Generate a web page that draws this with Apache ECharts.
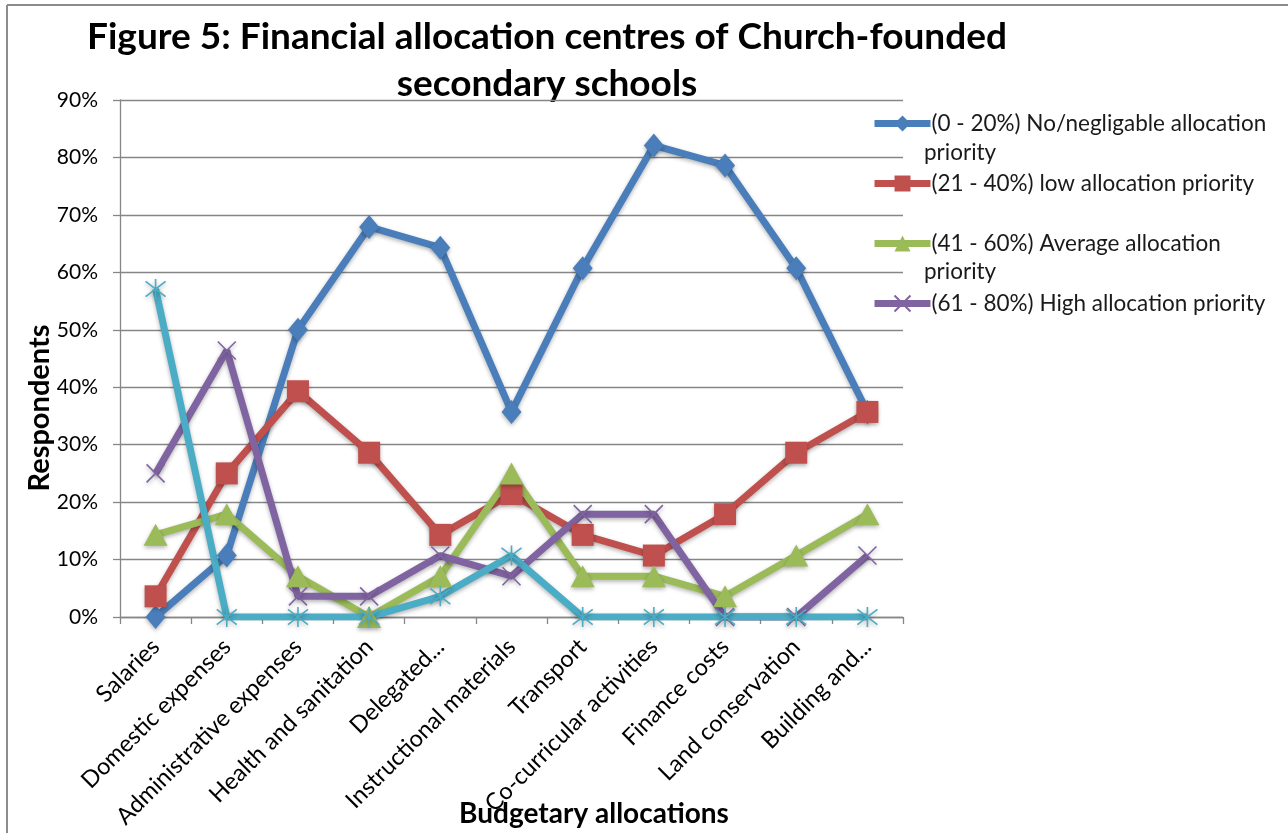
<!DOCTYPE html>
<html>
<head>
<meta charset="utf-8">
<script src="https://cdn.jsdelivr.net/npm/echarts@6/dist/echarts.min.js"></script>
<style>
  html, body { margin: 0; padding: 0; background: #fff; }
  #chart { width: 1288px; height: 833px; }
</style>
</head>
<body>
<div id="chart"></div>
<script>
// Budget lines surveyed
const categories = [
  'Salaries', 'Domestic expenses', 'Administrative expenses', 'Health and sanitation',
  'Delegated...', 'Instructional materials', 'Transport', 'Co-curricular activities',
  'Finance costs', 'Land conservation', 'Building and...'
];

// Share of respondents (%) per priority band
const noPriority      = [0, 10.7, 50, 67.9, 64.3, 35.7, 60.7, 82.1, 78.6, 60.7, 35.7];
const lowPriority     = [3.6, 25, 39.3, 28.6, 14.3, 21.4, 14.3, 10.7, 17.9, 28.6, 35.7];
const averagePriority = [14.3, 17.9, 7.1, 0, 7.1, 25, 7.1, 7.1, 3.6, 10.7, 17.9];
const highPriority    = [25, 46.4, 3.6, 3.6, 10.7, 7.1, 17.9, 17.9, 0, 0, 10.7];
const veryHighPriority = [57.1, 0, 0, 0, 3.6, 10.7, 0, 0, 0, 0, 0];

const seriesNames = [
  '(0 - 20%) No/negligable allocation priority',
  '(21 - 40%) low allocation priority',
  '(41 - 60%) Average allocation priority',
  '(61 - 80%) High allocation priority',
  '(81 - 100%) Very high allocation priority'
];
const legendLabels = [
  '(0 - 20%) No/negligable allocation',
  '(21 - 40%) low allocation priority',
  '(41 - 60%) Average allocation',
  '(61 - 80%) High allocation priority'
];
const yTicks = { min: 0, max: 90, interval: 10 };

const FONT = 'Lato, "Open Sans", sans-serif';
const colors = ['#4A7EBB', '#C0504D', '#9BBB59', '#8064A2', '#4BACC6'];
const GRID_GRAY = '#868686';

const crossPath = 'path://M0,0L10,10M10,0L0,10';
const starPath = 'path://M0,0L10,10M10,0L0,10M5,-1.5L5,11.5';

function makeSeries(i, data, symbol, size) {
  return {
    name: seriesNames[i],
    type: 'line',
    data: data,
    symbol: symbol,
    symbolSize: size,
    showAllSymbol: true,
    lineStyle: {
      width: 7,
      color: colors[i],
      shadowColor: 'rgba(0,0,0,0.3)',
      shadowBlur: 4,
      shadowOffsetY: 2
    },
    itemStyle: {
      color: colors[i],
      borderColor: colors[i],
      borderWidth: (symbol.indexOf('path://') === 0) ? 1.6 : 0,
      shadowColor: 'rgba(0,0,0,0.3)',
      shadowBlur: 4,
      shadowOffsetY: 2
    },
    emphasis: { disabled: true },
    animation: false
  };
}

const chart = echarts.init(document.getElementById('chart'), null, { renderer: 'canvas' });

chart.setOption({
  backgroundColor: '#ffffff',
  animation: false,
  textStyle: { fontFamily: FONT },
  grid: { left: 120, right: 385, top: 100, bottom: 216, containLabel: false },
  legend: {
    data: seriesNames.slice(0, 4),
    orient: 'vertical',
    left: 866,
    top: 107,
    itemWidth: 56,
    itemHeight: 20,
    itemGap: 37,
    lineStyle: { width: 7 },
    formatter: function (name) { return legendLabels[seriesNames.indexOf(name)]; },
    textStyle: { fontFamily: FONT, fontSize: 22.5, color: '#1a1a1a', padding: [0, 0, 0, -4] },
    selectedMode: false
  },
  xAxis: {
    type: 'category',
    data: categories,
    boundaryGap: true,
    axisLine: { show: true, lineStyle: { color: GRID_GRAY, width: 1.3 } },
    axisTick: { show: true, length: 7, alignWithLabel: false, lineStyle: { color: GRID_GRAY, width: 1.3 } },
    axisLabel: {
      interval: 0,
      rotate: 45,
      margin: 26,
      fontFamily: FONT,
      fontSize: 23.5,
      color: '#000'
    },
    splitLine: { show: false }
  },
  yAxis: {
    type: 'value',
    min: yTicks.min,
    max: yTicks.max,
    interval: yTicks.interval,
    axisLine: { show: true, lineStyle: { color: GRID_GRAY, width: 1.3 } },
    axisTick: { show: true, length: 7, lineStyle: { color: GRID_GRAY, width: 1.3 } },
    axisLabel: {
      formatter: '{value}%',
      margin: 22,
      fontFamily: FONT,
      fontSize: 21,
      color: '#000'
    },
    splitLine: { show: true, lineStyle: { color: GRID_GRAY, width: 1.3 } }
  },
  graphic: [
    // chart frame (left and top edges)
    { type: 'line', silent: true, shape: { x1: 7, y1: 5, x2: 7, y2: 840 }, style: { stroke: '#8c8c8c', lineWidth: 2 } },
    { type: 'line', silent: true, shape: { x1: 7, y1: 5, x2: 1300, y2: 5 }, style: { stroke: '#8c8c8c', lineWidth: 2 } },
    // title
    { type: 'text', silent: true, x: 547, y: 37,
      style: { text: 'Figure 5: Financial allocation centres of Church-founded', fontFamily: FONT, fontWeight: 'bold', fontSize: 37, fill: '#000', textAlign: 'center', textVerticalAlign: 'middle' } },
    { type: 'text', silent: true, x: 547, y: 84,
      style: { text: 'secondary schools', fontFamily: FONT, fontWeight: 'bold', fontSize: 37, fill: '#000', textAlign: 'center', textVerticalAlign: 'middle' } },
    // axis titles
    { type: 'text', silent: true, x: 40, y: 408, rotation: Math.PI / 2,
      style: { text: 'Respondents', fontFamily: FONT, fontWeight: 'bold', fontSize: 29, fill: '#000', textAlign: 'center', textVerticalAlign: 'middle' } },
    { type: 'text', silent: true, x: 594, y: 814,
      style: { text: 'Budgetary allocations', fontFamily: FONT, fontWeight: 'bold', fontSize: 28, fill: '#000', textAlign: 'center', textVerticalAlign: 'middle' } },
    // wrapped second lines of legend entries
    { type: 'text', silent: true, x: 924, y: 153,
      style: { text: 'priority', fontFamily: FONT, fontSize: 22.5, fill: '#1a1a1a', textAlign: 'left', textVerticalAlign: 'middle' } },
    { type: 'text', silent: true, x: 924, y: 272,
      style: { text: 'priority', fontFamily: FONT, fontSize: 22.5, fill: '#1a1a1a', textAlign: 'left', textVerticalAlign: 'middle' } }
  ],
  series: [
    makeSeries(0, noPriority, 'diamond', [20, 24]),
    makeSeries(1, lowPriority, 'rect', 22),
    makeSeries(2, averagePriority, 'triangle', [24, 22]),
    makeSeries(3, highPriority, crossPath, 18),
    makeSeries(4, veryHighPriority, starPath, 20)
  ]
});
</script>
</body>
</html>
